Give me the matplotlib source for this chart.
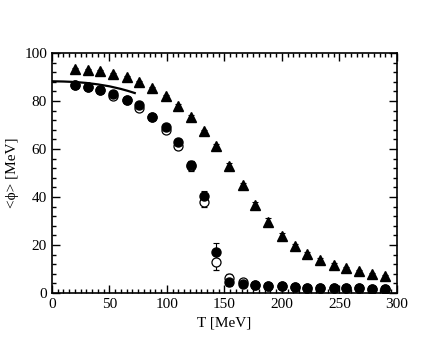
import matplotlib
matplotlib.use("Agg")
import matplotlib.pyplot as plt
from matplotlib.ticker import MultipleLocator

plt.rcParams['font.family'] = ['Liberation Serif', 'DejaVu Serif']

# temperatures of the lattice points
T = [20, 31, 42, 53, 65, 76, 87, 99, 110, 121, 132, 143, 154,
     166, 177, 188, 200, 211, 222, 233, 245, 256, 267, 278, 290]

# filled circles
phi_full = [86.8, 85.7, 84.7, 82.9, 80.5, 78.5, 73.3, 69.2, 62.8, 53.2, 40.3, 16.9, 4.4,
            3.7, 3.3, 3.0, 2.8, 2.5, 2.3, 2.2, 2.1, 2.0, 1.9, 1.8, 1.7]
err_full = [0.5, 0.5, 0.5, 0.6, 0.6, 0.7, 0.8, 1.0, 1.2, 2.0, 2.2, 4.0, 1.5,
            1.2, 0.6, 0.5, 0.5, 0.4, 0.4, 0.3, 0.3, 0.3, 0.3, 0.3, 0.3]

# open circles
phi_open = [86.8, 85.7, 84.7, 81.9, 80.3, 77.0, 73.3, 68.0, 61.1, 53.0, 37.9, 12.8, 6.2,
            4.4, 3.3, 3.0, 2.8, 2.5, 2.3, 2.2, 2.1, 2.0, 1.9, 1.8, 1.7]
err_open = [0.5, 0.5, 0.5, 0.6, 0.6, 0.7, 0.8, 1.0, 1.2, 2.0, 2.0, 3.2, 1.6,
            1.2, 0.6, 0.5, 0.5, 0.4, 0.4, 0.3, 0.3, 0.3, 0.3, 0.3, 0.3]

# filled triangles
phi_tri = [93.3, 93.0, 92.3, 91.2, 89.8, 87.8, 85.4, 81.9, 78.0, 73.3, 67.3, 61.1, 53.0,
           44.8, 36.5, 29.8, 23.9, 19.4, 16.2, 13.9, 11.7, 10.4, 9.0, 8.0, 7.2]
err_tri = [0.4, 0.4, 0.4, 0.4, 0.5, 0.5, 0.5, 0.6, 0.6, 0.7, 0.8, 0.8, 1.0,
           1.2, 1.4, 1.3, 1.2, 1.0, 0.9, 0.8, 0.7, 0.6, 0.6, 0.5, 0.5]

# low temperature curve
T_curve = [0, 10, 20, 30, 40, 50, 60, 66, 72]
phi_curve = [88.2, 88.1, 87.9, 87.5, 86.9, 86.1, 85.0, 84.2, 83.3]

fig = plt.figure(figsize=(4.48, 3.46), dpi=100)
ax = fig.add_axes([0.116, 0.153, 0.770, 0.694])

ax.errorbar(T, phi_tri, yerr=err_tri, fmt='^', color='black', ms=7,
            capsize=2.5, elinewidth=0.8, capthick=0.8)
ax.errorbar(T, phi_open, yerr=err_open, fmt='o', color='black', mfc='white',
            mec='black', ms=6.5, mew=0.9, capsize=2.5, elinewidth=0.8, capthick=0.8)
ax.errorbar(T, phi_full, yerr=err_full, fmt='o', color='black', ms=6.5,
            capsize=2.5, elinewidth=0.8, capthick=0.8)
ax.plot(T_curve, phi_curve, color='black', lw=1.6)

ax.set_xlim(0, 300)
ax.set_ylim(0, 100)
ax.xaxis.set_major_locator(MultipleLocator(50))
ax.xaxis.set_minor_locator(MultipleLocator(5))
ax.yaxis.set_major_locator(MultipleLocator(20))
ax.yaxis.set_minor_locator(MultipleLocator(4))
ax.tick_params(which='both', direction='in', top=True, right=True,
               labelsize=11, width=1.0)
ax.tick_params(which='major', length=6)
ax.tick_params(which='minor', length=3)
for sp in ax.spines.values():
    sp.set_linewidth(1.2)

ax.set_xlabel('T [MeV]', fontsize=11)
ax.set_ylabel('<\u03d5> [MeV]', fontsize=11)

fig.savefig('out.png', dpi=100)
